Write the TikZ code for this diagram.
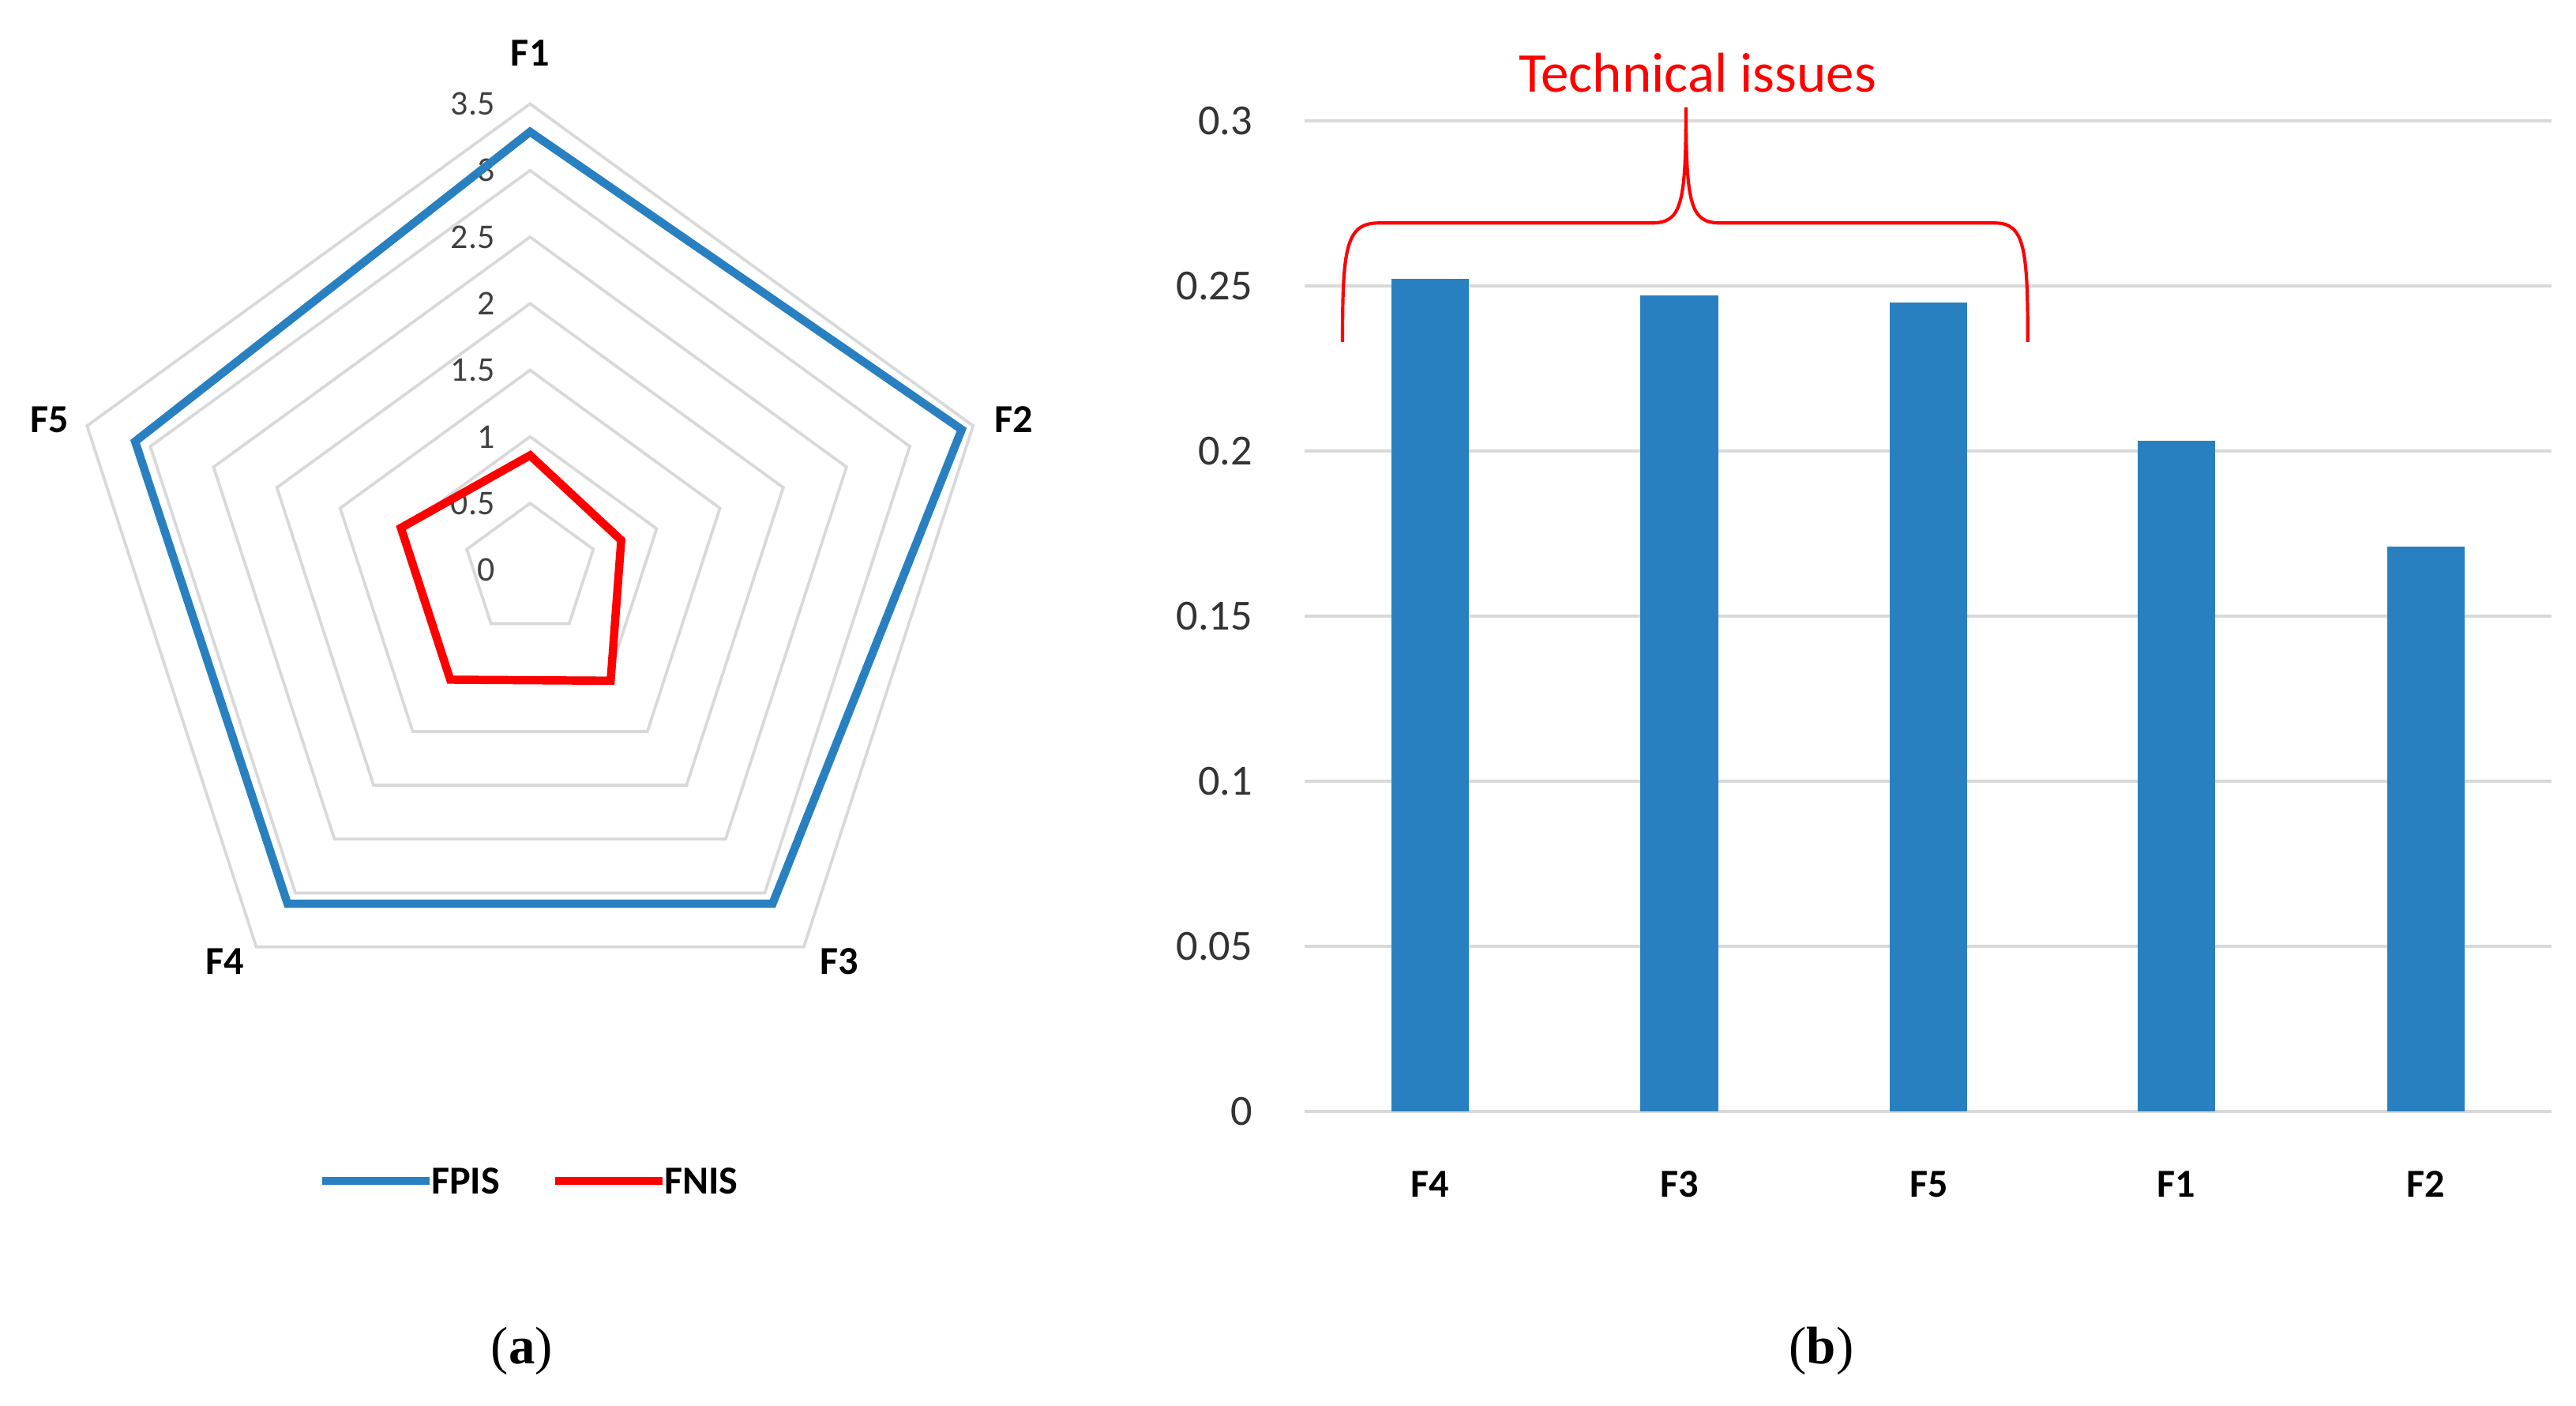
\documentclass[tikz,border=0pt]{standalone}
\usepackage{fontspec}
\setmainfont{Carlito}
\newfontfamily\capfont{Liberation Serif}
\usetikzlibrary{calc}
\definecolor{barblue}{RGB}{41,128,192}
\definecolor{gridgray}{RGB}{217,217,217}
\tikzset{
  tick/.style={font=\fontsize{26}{30}\selectfont, text=black!80},
  rtick/.style={font=\fontsize{21}{24}\selectfont, text=black!75, anchor=east, inner sep=1pt},
  cat/.style={font=\fontsize{24}{28}\selectfont\bfseries},
  series/.style={line width=5pt, line join=miter},
}
\begin{document}
\begin{tikzpicture}[x=1pt,y=-1pt]
  \useasboundingbox (0,0) rectangle (1560,851);
  % radar chart
  \begin{scope}[shift={(321,345)}, x=80.6pt, y=80.6pt]
    \coordinate (rc) at (0,0);
    \foreach \r in {0.5,1,...,3.5}
      \draw[gridgray, line width=1.8pt] (90:\r) -- (18:\r) -- (-54:\r) -- (-126:\r) -- (162:\r) -- cycle;
    \foreach \r/\t in {0/0,0.5/0.5,1/1,1.5/1.5,2/2,2.5/2.5,3/3,3.5/3.5}
      \node[rtick] (r\t) at ($(0.0,\r)+(-0.25,0)$) {\t};
    \draw[series, barblue] (90:3.29) -- (18:3.41) -- (-54:3.1) -- (-126:3.1) -- (162:3.12) -- cycle;
    \draw[series, red] (90:0.86) -- (18:0.72) -- (-54:1.03) -- (-126:1.02) -- (162:1.02) -- cycle;
  \end{scope}
  \node[cat] (f1) at (321,32) {F1};
  \node[cat] (f2) at (614,254) {F2};
  \node[cat] (f3) at (508,582) {F3};
  \node[cat] (f4) at (136,582) {F4};
  \node[cat] (f5) at (30,254) {F5};
  % legend
  \coordinate (la) at (195,715);
  \coordinate (lb) at (260,715);
  \coordinate (lc) at (336,715);
  \coordinate (ld) at (401,715);
  \draw[series, barblue] (la) -- (lb);
  \node[cat, anchor=west, inner sep=1pt] (fpis) at (lb) {FPIS};
  \draw[series, red] (lc) -- (ld);
  \node[cat, anchor=west, inner sep=1pt] (fnis) at (ld) {FNIS};
  % bar chart
  \foreach \v [count=\i from 0] in {0,0.05,0.1,0.15,0.2,0.25,0.3} {
    \draw[gridgray, line width=2pt] (790,673-2000*\v) -- (1545,673-2000*\v);
    \node[tick, anchor=east] (t\i) at (762,673-2000*\v) {\v};
  }
  \foreach \f/\x/\v in {F4/866/0.252,F3/1017/0.247,F5/1168/0.245,F1/1318/0.203,F2/1469/0.171} {
    \fill[barblue] (\x-23.5,673) rectangle (\x+23.5,673-2000*\v);
    \node[cat] (b\f) at (\x,717) {\f};
  }
  % brace
  \coordinate (bl) at (813,207);
  \coordinate (br) at (1228,207);
  \coordinate (bt) at (1021,65);
  \draw[red, line width=2pt] (bl) .. controls (813,150) and (815,135) .. (835,135)
    -- (1000,135) .. controls (1018,135) and (1021,125) .. (bt)
    .. controls (1021,125) and (1024,135) .. (1042,135)
    -- (1208,135) .. controls (1226,135) and (1228,150) .. (br);
  \node[red, font=\fontsize{34}{40}\selectfont] (tech) at (1028,44) {Technical issues};
  % captions
  \node[font=\capfont\fontsize{32}{36}\selectfont] (capa) at (316,818) {(\textbf{a})};
  \node[font=\capfont\fontsize{32}{36}\selectfont] (capb) at (1103,818) {(\textbf{b})};
\end{tikzpicture}
\end{document}
